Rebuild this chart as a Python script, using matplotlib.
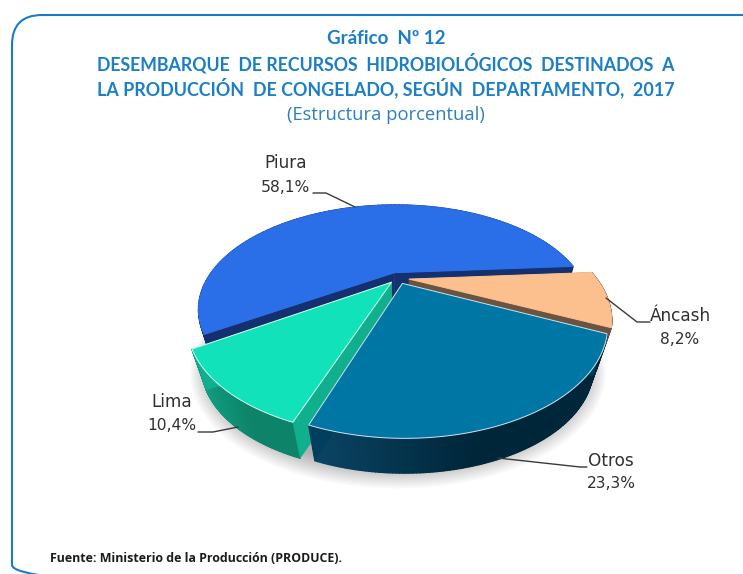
import numpy as np
import matplotlib
matplotlib.use("Agg")
import matplotlib.pyplot as plt
from matplotlib.patches import FancyBboxPatch, Polygon
from matplotlib.collections import PolyCollection
from matplotlib.colors import to_rgb

# ---- data ----
departments = ["Piura", "Áncash", "Otros", "Lima"]
shares = [58.1, 8.2, 23.3, 10.4]
share_labels = ["58,1%", "8,2%", "23,3%", "10,4%"]

# ---- styles ----
explode = [0.06, 0.06, 0.06, 0.055]
top_colors = ["#2b6fe8", "#fcc08f", "#0076a4", "#12e2b9"]
radial_colors = ["#14306e", "#6b5340", "#00405e", "#10b08e"]
wall_left = ["#14306e", "#6b5340", "#0a4565", "#109f82"]
wall_right = ["#14306e", "#6b5340", "#00263a", "#0d8469"]
edge_colors = ["#2b6fe8", "#fcc08f", "#cfe6f0", "#d5fbf2"]
draw_order = [0, 1, 3, 2]
start_deg = 213.2
TITLE = "#1b7fc6"
CX, CY, A, B, K = 398.0, 278.0, 187.0, 95.0, 0.355
S, DY = 0.93, 46.0

plt.rcParams["font.family"] = ["DejaVu Sans"]
fig = plt.figure(figsize=(7.43, 5.74), dpi=100, facecolor="white")
ax = fig.add_axes([0, 0, 1, 1])
ax.set_xlim(0, 743)
ax.set_ylim(574, 0)
ax.axis("off")


def project(x, y):
    w = 1 + K * y
    return CX + A * x / w, CY - B * y / w


def lower(px, py):
    return CX + S * (px - CX), CY + S * (py - CY) + DY


# frame
ax.add_patch(FancyBboxPatch((12, 15), 800, 580, boxstyle="round,pad=0,rounding_size=30",
                            fc="none", ec="#1b7cc4", lw=1.5, zorder=1))

# soft shadow under the pie
t = np.radians(np.linspace(0, 360, 240))
for g in np.linspace(1.10, 1.0, 14):
    sx, sy = project(g * np.cos(t), g * np.sin(t))
    lx, ly = lower(sx, sy)
    ax.add_patch(Polygon(np.c_[lx, ly + 5], closed=True, fc="black", ec="none",
                         alpha=0.022, zorder=2))

# slices from the values
fracs = np.array(shares) / np.sum(shares) * 360
ends = start_deg - np.cumsum(fracs)
starts = ends + fracs
z = 3
for i in draw_order:
    a0, a1 = starts[i], ends[i]
    mid = np.radians((a0 + a1) / 2)
    ox, oy = explode[i] * np.cos(mid), explode[i] * np.sin(mid)
    th = np.radians(np.linspace(a1, a0, 120))      # ascending angle
    ax_, ay_ = project(ox + np.cos(th), oy + np.sin(th))
    tipx, tipy = project(ox, oy)
    bx_, by_ = lower(ax_, ay_)
    btx, bty = lower(tipx, tipy)

    # outer wall, small quads with a gradient
    quads, cols = [], []
    c_l, c_r = np.array(to_rgb(wall_left[i])), np.array(to_rgb(wall_right[i]))
    span = max(ax_.max() - ax_.min(), 1)
    for j in range(len(th) - 1):
        quads.append([(ax_[j], ay_[j]), (ax_[j + 1], ay_[j + 1]),
                      (bx_[j + 1], by_[j + 1]), (bx_[j], by_[j])])
        f = np.clip(((ax_[j] - ax_.min()) / span) * 1.8, 0, 1)
        cols.append(tuple(c_l * (1 - f) + c_r * f))
    ax.add_collection(PolyCollection(quads, facecolors=cols, edgecolors=cols,
                                     linewidths=1.0, zorder=z))
    z += 1
    # radial walls
    for k in (0, -1):
        ax.add_patch(Polygon([(tipx, tipy), (ax_[k], ay_[k]), (bx_[k], by_[k]), (btx, bty)],
                             closed=True, fc=radial_colors[i], ec=radial_colors[i],
                             lw=0.3, zorder=z))
        z += 1
    # top face
    ax.add_patch(Polygon(np.r_[[[tipx, tipy]], np.c_[ax_, ay_]], closed=True,
                         fc=top_colors[i], ec=edge_colors[i], lw=0.7, zorder=z,
                         joinstyle="round"))
    z += 1

# leader lines
leaders = {
    "Piura": ([313, 326, 355], [193, 193, 207]),
    "Áncash": ([606, 637, 650], [298, 322, 322]),
    "Otros": ([498, 580, 587], [458, 467, 467]),
    "Lima": ([198, 213, 238], [432, 432, 427]),
}
for xs, ys in leaders.values():
    ax.plot(xs, ys, color="#3a3a3a", lw=1.0, zorder=z, solid_capstyle="round")

# labels
label_xy = {"Piura": (285.5, 163, 188), "Áncash": (680, 316, 340),
            "Otros": (611, 461, 484), "Lima": (172, 402, 426)}
for name, val in zip(departments, share_labels):
    x, y1, y2 = label_xy[name]
    ax.text(x, y1, name, ha="center", va="center", fontsize=12.2, color="#303030", zorder=z)
    ax.text(x, y2, val, ha="center", va="center", fontsize=11.2, color="#303030", zorder=z)

# titles
tf = "Lato"
ax.text(386, 38, "Gráfico  Nº 12", ha="center", va="center", family=tf, weight="bold",
        fontsize=13.5, color=TITLE)
ax.text(386, 63, "DESEMBARQUE  DE RECURSOS  HIDROBIOLÓGICOS  DESTINADOS  A", ha="center",
        va="center", family=tf, weight="bold", fontsize=12.78, color=TITLE)
ax.text(386, 88, "LA PRODUCCIÓN  DE CONGELADO, SEGÚN  DEPARTAMENTO,  2017", ha="center",
        va="center", family=tf, weight="bold", fontsize=12.88, color=TITLE)
ax.text(386, 115, "(Estructura porcentual)", ha="center", va="center", family="Open Sans",
        fontsize=13.2, color="#2f7fc0")
ax.text(50, 558, "Fuente: Ministerio de la Producción (PRODUCE).", ha="left", va="center",
        family="Open Sans", weight="bold", fontsize=8.95, color="#1c1c1c")

fig.savefig("out.png", dpi=100)
